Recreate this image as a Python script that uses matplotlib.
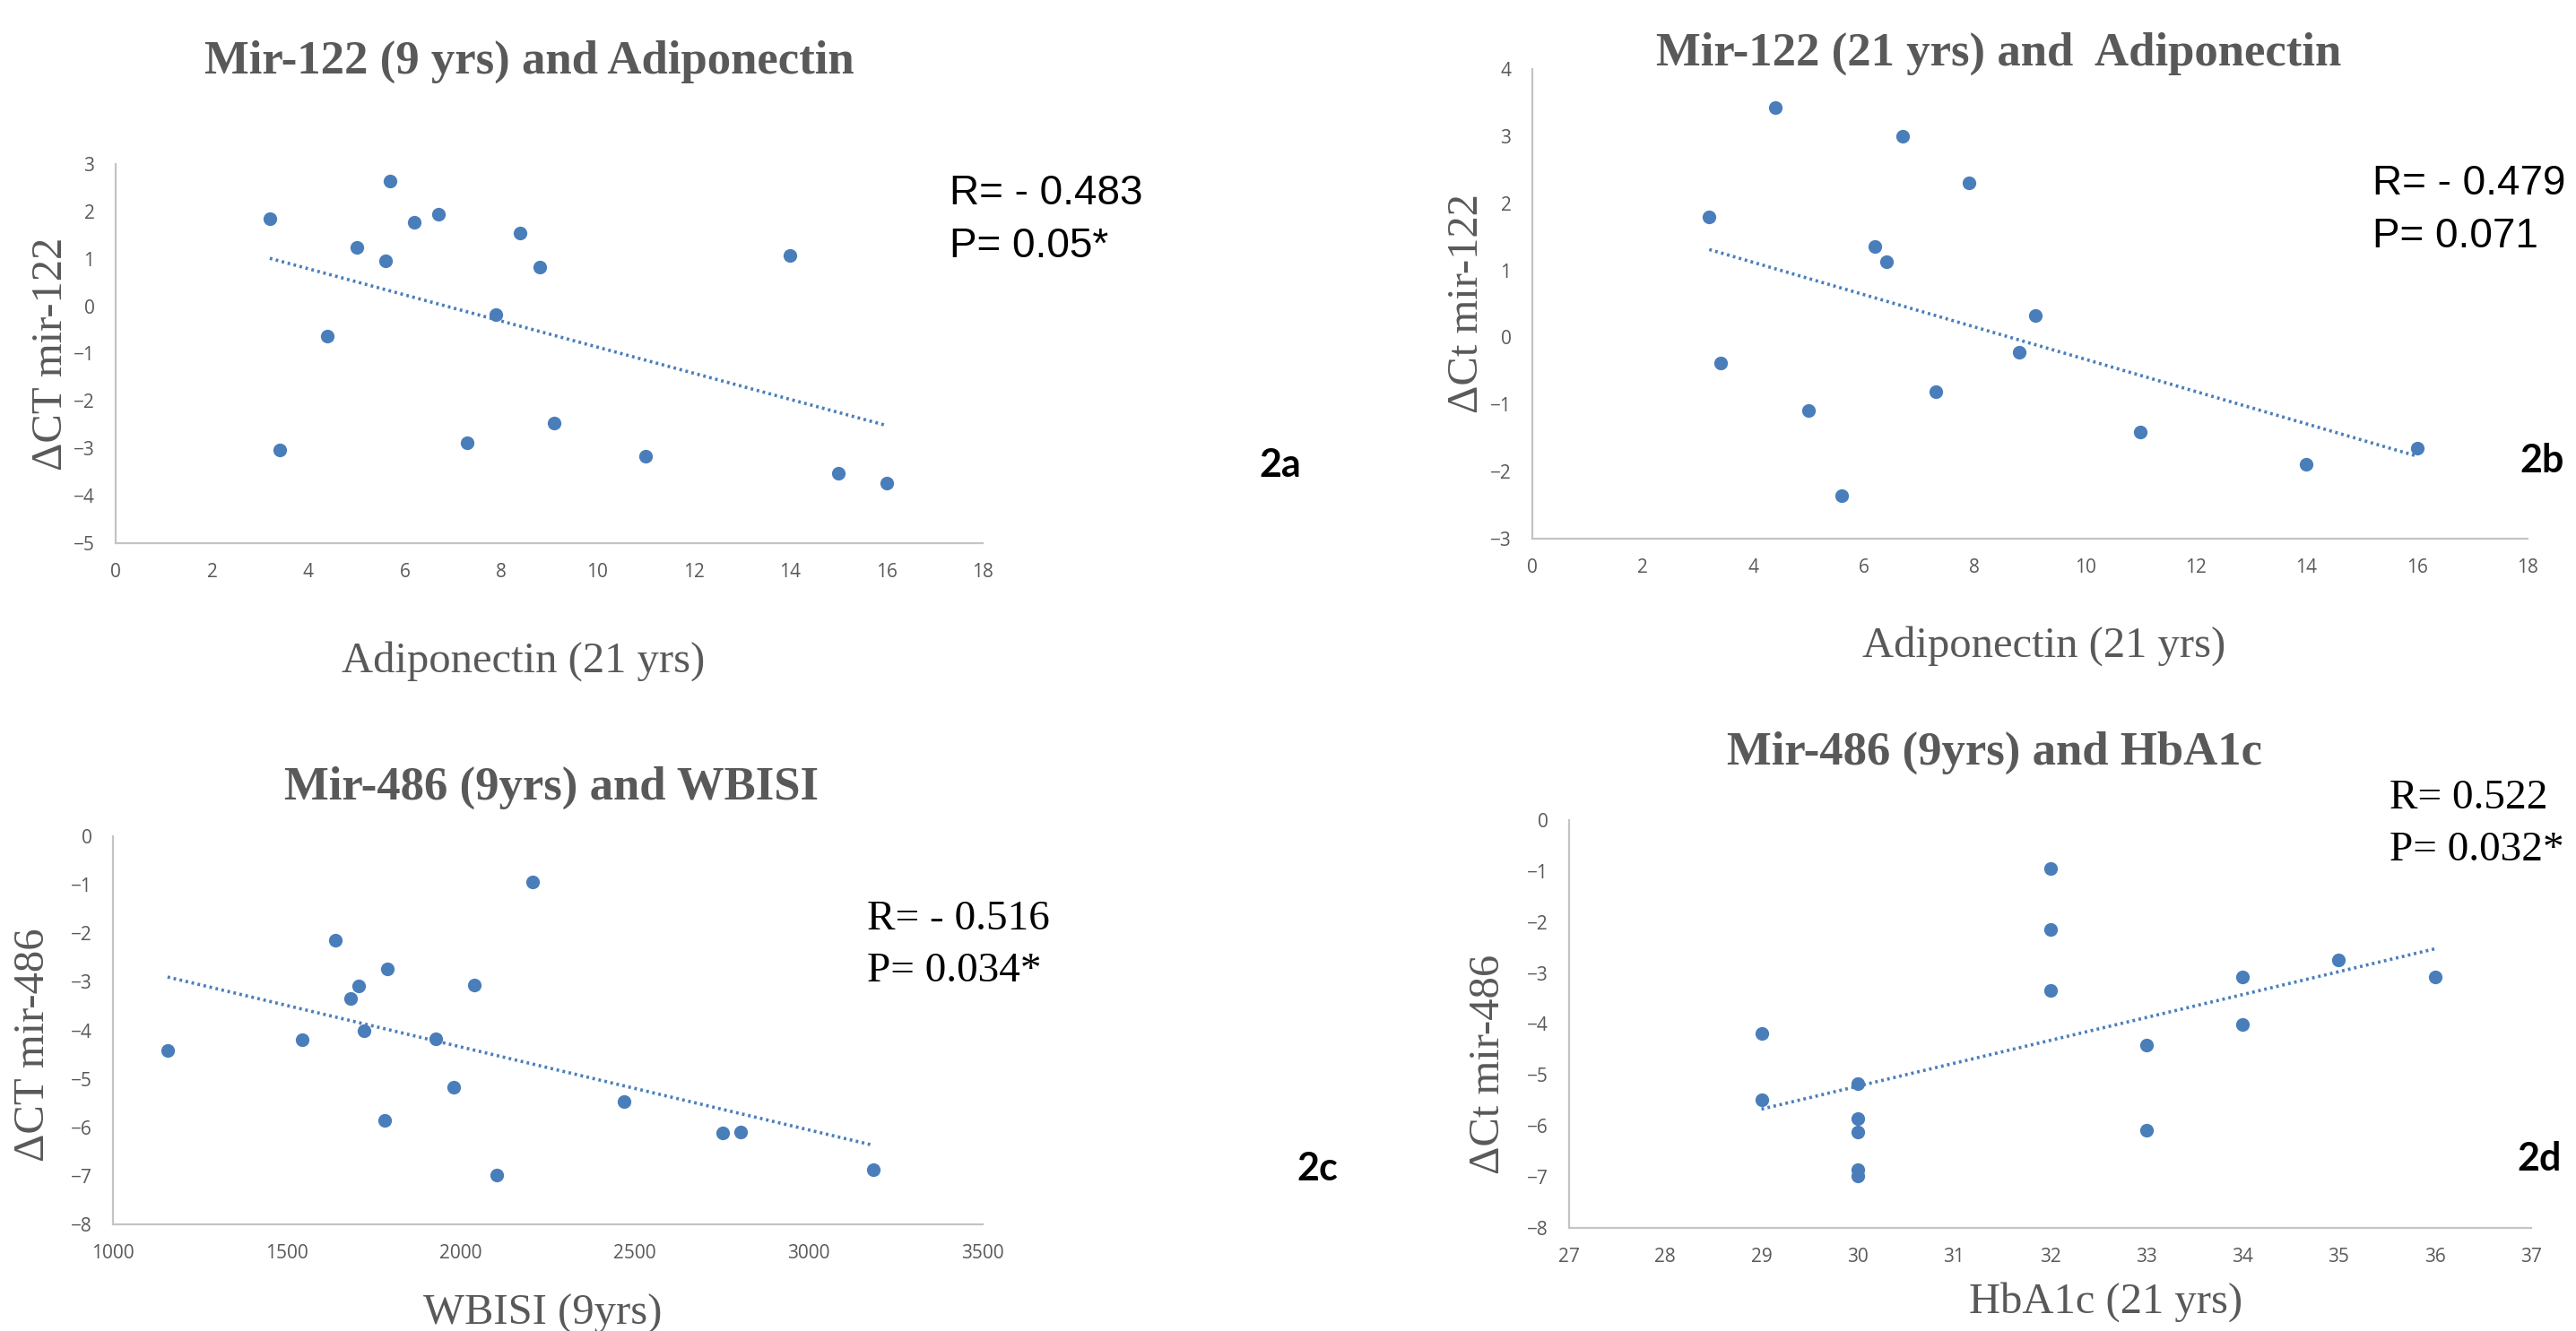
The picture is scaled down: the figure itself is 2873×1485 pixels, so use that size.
import numpy as np
import matplotlib
matplotlib.use("Agg")
import matplotlib.pyplot as plt

W, H, DPI = 2873, 1485, 100

# ---------------- data ----------------
adipo_21_a = [3.2, 3.4, 4.4, 5.0, 5.6, 5.7, 6.2, 6.7, 7.3, 7.9, 8.4, 8.8, 9.1, 11.0, 14.0, 15.0, 16.0]
mir122_9y = [1.85, -3.04, -0.64, 1.24, 0.95, 2.65, 1.78, 1.94, -2.89, -0.17, 1.55, 0.82, -2.46, -3.17, 1.08, -3.53, -3.73]

adipo_21_b = [3.2, 3.4, 4.4, 5.0, 5.6, 6.2, 6.4, 6.7, 7.3, 7.9, 8.8, 9.1, 11.0, 14.0, 16.0]
mir122_21y = [1.79, -0.38, 3.43, -1.09, -2.36, 1.36, 1.13, 3.0, -0.81, 2.31, -0.22, 0.32, -1.41, -1.89, -1.65]

wbisi_9y = [1157, 1544, 1639, 1684, 1707, 1722, 1780, 1788, 1928, 1979, 2039, 2104, 2206, 2468, 2752, 2805, 3186]
mir486_c = [-4.42, -4.20, -2.14, -3.34, -3.08, -4.01, -5.86, -2.73, -4.18, -5.18, -3.06, -6.99, -0.94, -5.47, -6.11, -6.09, -6.87]

hba1c_21y = [29, 29, 30, 30, 30, 30, 30, 32, 32, 32, 33, 33, 34, 34, 35, 36]
mir486_d = [-4.19, -5.48, -5.17, -5.86, -6.12, -6.85, -6.98, -0.95, -2.14, -3.34, -4.41, -6.09, -3.08, -4.01, -2.75, -3.07]

titles = ["Mir-122 (9 yrs) and Adiponectin", "Mir-122 (21 yrs) and  Adiponectin",
          "Mir-486 (9yrs) and WBISI", "Mir-486 (9yrs) and HbA1c"]
xlabels = ["Adiponectin (21 yrs)", "Adiponectin (21 yrs)", "WBISI (9yrs)", "HbA1c (21 yrs)"]
ylabels = ["\u0394CT mir-122", "\u0394Ct mir-122", "\u0394CT mir-486", "\u0394Ct mir-486"]
stats_r = ["R= - 0.483", "R= - 0.479", "R= - 0.516", "R= 0.522"]
stats_p = ["P= 0.05*", "P= 0.071", "P= 0.034*", "P= 0.032*"]
panel_tags = ["2a", "2b", "2c", "2d"]

xlims = [(0, 18), (0, 18), (1000, 3500), (27, 37)]
xsteps = [2, 2, 500, 1]
ylims = [(-5, 3), (-3, 4), (-8, 0), (-8, 0)]

# ---------------- style ----------------
BLUE = "#4A7EBB"
GRAY_TXT = "#595959"
AX_GRAY = "#C4C4C4"
SERIF = ["Liberation Serif", "DejaVu Serif"]
SANS = ["Liberation Sans", "DejaVu Sans"]
TICKF = ["Open Sans", "DejaVu Sans"]
BOLDF = ["Lato", "DejaVu Sans"]

fig = plt.figure(figsize=(W / DPI, H / DPI), dpi=DPI)
fig.patch.set_facecolor("white")


def fx(x):
    return x / W


def fy(y):
    return 1 - y / H


# axes boxes in pixels: (left, top, right, bottom)
boxes = [(129, 183, 1096, 606), (1709, 77, 2819, 601), (126, 933, 1096, 1366), (1750, 915, 2823, 1370)]

# text positions in pixels
title_pos = [(590, 82), (2229, 73), (615, 892), (2224, 853)]
xlabel_pos = [(584, 750), (2280, 733), (605, 1478), (2349, 1465)]
ylabel_pos = [(57, 395), (1636, 339), (37, 1166), (1660, 1187)]
stat_pos = [(1059, 228, 287), (2646, 217, 276), (967, 1037, 1095), (2665, 902, 960)]
stat_font = [SANS, SANS, SERIF, SERIF]
stat_size = [33, 33, 34, 34]
tag_pos = [(1428, 519), (2835, 514), (1469, 1304), (2832, 1293)]

datasets = [(adipo_21_a, mir122_9y), (adipo_21_b, mir122_21y), (wbisi_9y, mir486_c), (hba1c_21y, mir486_d)]

for i, (xs, ys) in enumerate(datasets):
    l, t, r, b = boxes[i]
    ax = fig.add_axes([fx(l), fy(b), (r - l) / W, (b - t) / H])
    xs = np.asarray(xs, float)
    ys = np.asarray(ys, float)
    ax.plot(xs, ys, "o", color=BLUE, markersize=11, markeredgewidth=0, zorder=3, clip_on=False)
    k, c = np.polyfit(xs, ys, 1)
    xx = np.array([xs.min(), xs.max()])
    ax.plot(xx, k * xx + c, color=BLUE, lw=2.6, linestyle=(0, (0.8, 1.1)), zorder=2)
    ax.set_xlim(*xlims[i])
    ax.set_ylim(*ylims[i])
    ax.set_xticks(np.arange(xlims[i][0], xlims[i][1] + xsteps[i] / 2, xsteps[i]))
    ax.set_yticks(np.arange(ylims[i][0], ylims[i][1] + 0.5, 1))
    for s in ["top", "right"]:
        ax.spines[s].set_visible(False)
    for s in ["left", "bottom"]:
        ax.spines[s].set_color(AX_GRAY)
        ax.spines[s].set_linewidth(1.6)
    ax.tick_params(axis="both", length=0, labelsize=15, labelcolor=GRAY_TXT)
    ax.tick_params(axis="y", pad=17)
    ax.tick_params(axis="x", pad=16)
    for lab in ax.get_xticklabels() + ax.get_yticklabels():
        lab.set_family(TICKF)
    ax.patch.set_alpha(0)

    tx, ty = title_pos[i]
    fig.text(fx(tx), fy(ty), titles[i], ha="center", va="baseline", fontsize=38,
             fontweight="bold", family=SERIF, color=GRAY_TXT)
    lx, ly = xlabel_pos[i]
    fig.text(fx(lx), fy(ly), xlabels[i], ha="center", va="baseline", fontsize=35,
             family=SERIF, color=GRAY_TXT)
    yx, yy = ylabel_pos[i]
    fig.text(fx(yx), fy(yy), ylabels[i], ha="center", va="center", rotation=90,
             fontsize=35, family=SERIF, color=GRAY_TXT)
    sx, sr, sp = stat_pos[i]
    fig.text(fx(sx), fy(sr), stats_r[i], ha="left", va="baseline", fontsize=stat_size[i],
             family=stat_font[i], color="black")
    fig.text(fx(sx), fy(sp), stats_p[i], ha="left", va="baseline", fontsize=stat_size[i],
             family=stat_font[i], color="black")
    gx, gy = tag_pos[i]
    fig.text(fx(gx), fy(gy), panel_tags[i], ha="center", va="center", fontsize=31,
             fontweight="bold", family=BOLDF, color="black")

fig.savefig("out.png", dpi=DPI, facecolor="white")
